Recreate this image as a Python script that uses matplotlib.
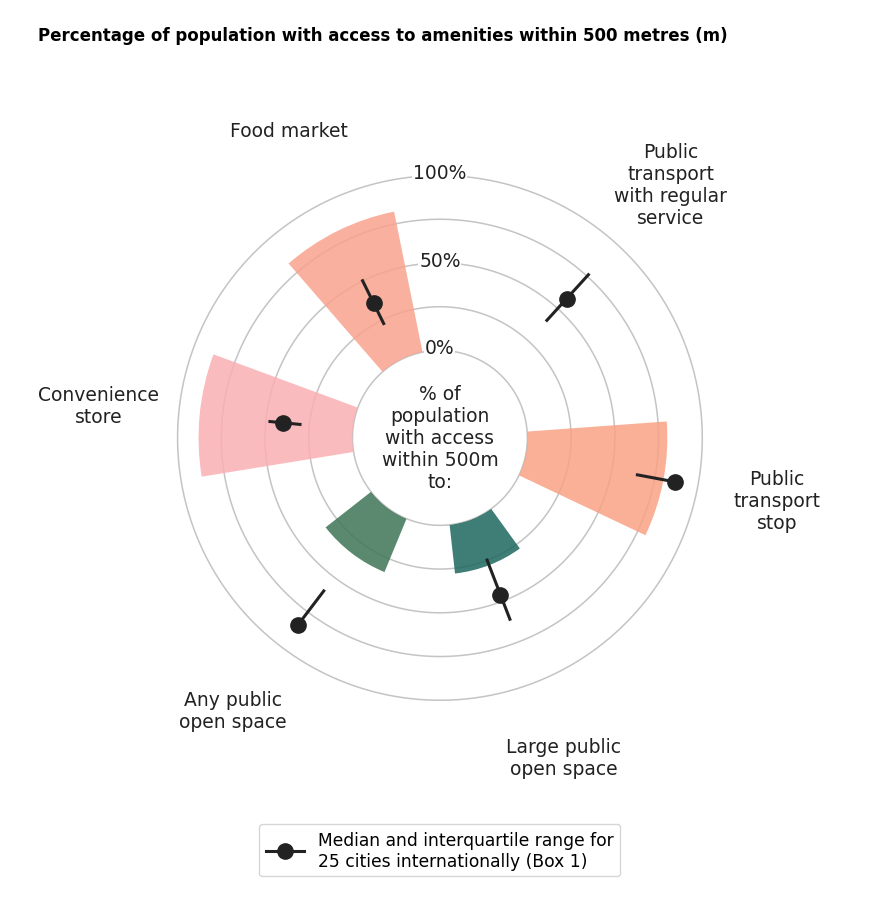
import numpy as np
import matplotlib
matplotlib.use("Agg")
import matplotlib.pyplot as plt
from matplotlib.lines import Line2D

# categories, counter-clockwise starting from the upper left bar
categories = ["Food market", "Convenience\nstore", "Any public\nopen space",
              "Large public\nopen space", "Public\ntransport\nstop",
              "Public\ntransport\nwith regular\nservice"]
city_values = [82, 88, 33, 28, 80, 0]          # % of population (bars)
median_25 = [36, 40, 84.5, 46, 87, 57.7]        # 25 cities median
q1_25 = [22, 29.5, 59, 24, 64, 40]
q3_25 = [51, 48.5, 86, 62, 88, 77]
bar_colors = ["#F8A28D", "#FAAFB3", "#3D7557", "#1D685E", "#F8A285", "#F8A285"]
ring_ticks = [0, 25, 50, 75, 100]
ring_labels = {0: "0%", 50: "50%", 100: "100%"}

start_deg = 116.2
step_deg = 58.3
theta = np.deg2rad(start_deg + step_deg * np.arange(len(categories)))
width = np.deg2rad(29.5)

fig = plt.figure(figsize=(8.76, 9.04), dpi=100)
ax = fig.add_axes([0.2027, 0.224, 0.599, 0.581], projection="polar")
ax.set_ylim(0, 100)
ax.set_rorigin(-50)

# no frame, rings drawn by hand, bars (semi transparent) on top
ax.set_frame_on(False)
ax.set_yticks([])
ax.set_xticks([])
ax.grid(False)
for name in ["polar", "inner", "start", "end"]:
    if name in ax.spines:
        ax.spines[name].set_visible(False)
for r in ring_ticks:
    ax.plot(np.linspace(0, 2 * np.pi, 400), np.full(400, r), color="#c4c4c4",
            lw=1.1, zorder=1, clip_on=False, solid_capstyle="butt")

ax.bar(theta, city_values, width=width, bottom=0, color=bar_colors,
       alpha=0.85, edgecolor="none", zorder=2)

med = np.array(median_25)
ax.errorbar(theta, med, yerr=[med - np.array(q1_25), np.array(q3_25) - med],
            fmt="o", color="#222222", ms=11, elinewidth=2.2, capsize=0, zorder=4)

for r, lab in ring_labels.items():
    ax.text(np.pi / 2, r + 1.5, lab, ha="center", va="center", fontsize=13.5,
            color="#222222", zorder=5,
            bbox=dict(facecolor="white", edgecolor="none", pad=0.5))

# category labels outside the circle
for t, lab in zip(theta, categories):
    ax.text(t, 146, lab, ha="center", va="center", ma="center", fontsize=13.5,
            color="#222222")

ax.text(0.5, 0.5, "% of\npopulation\nwith access\nwithin 500m\nto:",
        transform=ax.transAxes, ha="center", va="center", ma="center",
        fontsize=13.5, color="#222222")

fig.text(38 / 876, 1 - 36 / 904,
         "Percentage of population with access to amenities within 500 metres (m)",
         ha="left", va="center", fontsize=12, fontweight="bold")

handle = Line2D([], [], color="#222222", marker="o", ms=11, lw=2.2)
fig.legend([handle], ["Median and interquartile range for\n25 cities internationally (Box 1)"],
           loc="lower center", bbox_to_anchor=(0.502, 18 / 904), fontsize=12.3,
           frameon=True, fancybox=True, edgecolor="#cccccc", handlelength=2.2)

fig.savefig("out.png", dpi=100)
